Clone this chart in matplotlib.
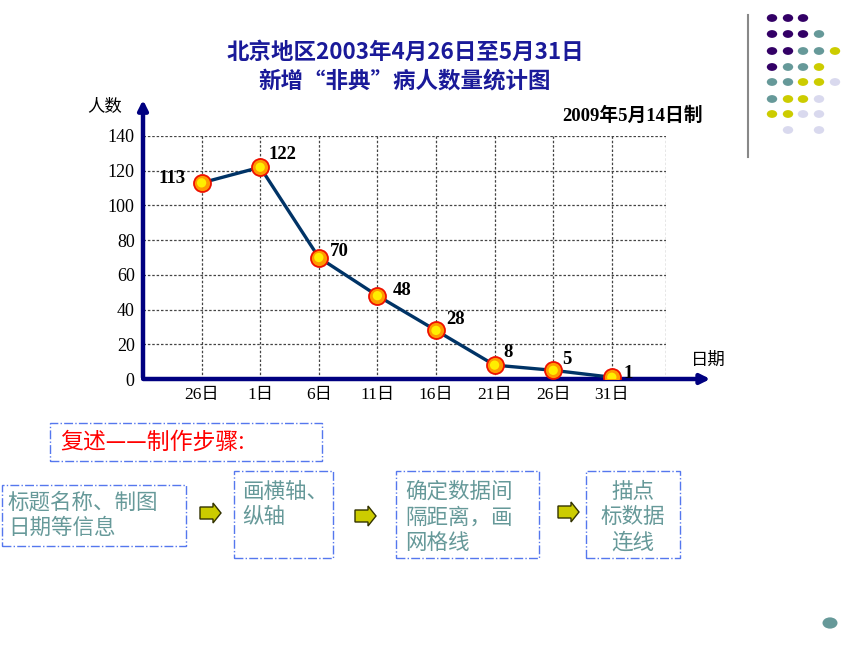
import matplotlib.pyplot as plt
from matplotlib.patches import Rectangle, Polygon, Circle

plt.rcParams['font.family'] = ['Noto Sans CJK SC', 'DejaVu Sans']

# chart data
days = ['26日', '1日', '6日', '11日', '16日', '21日', '26日', '31日']
cases = [113, 122, 70, 48, 28, 8, 5, 1]
# offsets (points) of the value labels
label_offsets = [(-21, 3), (16, 9), (15, 4), (18, 4), (14, 8), (10, 9), (10, 8), (12, 3)]
y_ticks = [0, 20, 40, 60, 80, 100, 120, 140]

# bottom step boxes
steps = ['标题名称、制图\n日期等信息', '画横轴、\n纵轴', '确定数据间\n隔距离，画\n网格线', '描点\n标数据\n连线']

# decoration dots (top right)
dot_rows = ['PPP', 'PPPT', 'PPTTY', 'PTTY', 'TTYYL', 'TYYL', 'YYLL', ' L L']
dot_colors = {'P': '#330066', 'T': '#669999', 'Y': '#cccc00', 'L': '#d9d9ee'}

W, H = 860, 645
fig = plt.figure(figsize=(8.6, 6.45), dpi=100)


def fx(x):
    return x / W


def fy(y):
    return 1 - y / H


serif = ['Liberation Serif', 'Noto Sans CJK SC']
navy = '#000080'

# main chart axes
ax = fig.add_axes([fx(143), fy(379), fx(666 - 143), (379 - 136) / H])
x = list(range(len(days)))
ax.set_xlim(-1, 7.925)
ax.set_ylim(0, 140)
for s in ax.spines.values():
    s.set_visible(False)

# dashed grid
for v in y_ticks[1:]:
    ax.axhline(v, color='#444444', lw=0.9, ls=(0, (2, 1.5)), zorder=1)
for xi in x + [7.925]:
    ax.axvline(xi, color='#444444', lw=0.9, ls=(0, (2, 1.5)), zorder=1)

# axes with arrows
ax.annotate('', xy=(0, 1.16), xytext=(0, -0.005), xycoords='axes fraction',
            arrowprops=dict(arrowstyle='-|>', color=navy, lw=3.2, mutation_scale=14))
ax.annotate('', xy=(1.09, 0), xytext=(-0.005, 0), xycoords='axes fraction',
            arrowprops=dict(arrowstyle='-|>', color=navy, lw=3.2, mutation_scale=14))

ax.plot(x, cases, color='#003366', lw=2.4, zorder=3)
ax.scatter(x, cases, s=150, facecolor='#ff9900', edgecolor='#ee1100', lw=1.3, zorder=4)
ax.scatter(x, cases, s=45, facecolor='#ffee00', edgecolor='none', zorder=5)

for xi, v, off in zip(x, cases, label_offsets):
    ax.annotate(str(v), (xi, v), xytext=off, textcoords='offset points',
                ha='center', va='center', fontsize=13.5, fontweight='bold',
                family='Liberation Serif', zorder=6)

ax.set_yticks(y_ticks)
ax.set_xticks(x)
ax.set_xticklabels(days)
ax.tick_params(length=0, pad=6)
for t in ax.get_yticklabels():
    t.set_family('Liberation Serif')
    t.set_fontsize(13)
for t in ax.get_xticklabels():
    t.set_family(serif)
    t.set_fontsize(12.5)

fig.text(fx(105), fy(107), '人数', fontsize=12.5, ha='center', va='center')
fig.text(fx(708), fy(360), '日期', fontsize=12.5, ha='center', va='center')
fig.text(fx(703), fy(116), '2009年5月14日制', fontsize=13.5, ha='right', va='center',
         fontweight='bold', family=serif)

# title
fig.text(fx(405), fy(52), '北京地区2003年4月26日至5月31日', fontsize=16.2, fontweight='bold',
         color='#1a1a99', ha='center', va='center')
fig.text(fx(405), fy(81), '新增“非典”病人数量统计图', fontsize=16.2, fontweight='bold',
         color='#1a1a99', ha='center', va='center')


def box(x0, y0, x1, y1):
    fig.patches.append(Rectangle((fx(x0), fy(y1)), fx(x1 - x0), (y1 - y0) / H,
                                 transform=fig.transFigure, fill=False,
                                 edgecolor='#5577ee', lw=1, ls='-.'))


def arrow(x0, yc):
    pts = [(x0, yc - 6), (x0 + 13, yc - 6), (x0 + 13, yc - 10), (x0 + 21, yc),
           (x0 + 13, yc + 10), (x0 + 13, yc + 6), (x0, yc + 6)]
    fig.patches.append(Polygon([(fx(a), fy(b)) for a, b in pts], closed=True,
                               transform=fig.transFigure, facecolor='#cccc00',
                               edgecolor='#333300', lw=1))


box(50, 423, 322, 461)
fig.text(fx(60), fy(442), '复述——制作步骤:', fontsize=16.5, color='#ff0000', va='center')

teal = '#669999'
fs = 15.5
box(2, 485, 186, 546)
fig.text(fx(8), fy(515), steps[0], fontsize=fs, color=teal, va='center', linespacing=1.2)
box(234, 471, 333, 558)
fig.text(fx(242), fy(481), steps[1], fontsize=fs, color=teal, va='top', linespacing=1.2)
box(396, 471, 539, 558)
fig.text(fx(405), fy(481), steps[2], fontsize=fs, color=teal, va='top', linespacing=1.2)
box(586, 471, 680, 558)
fig.text(fx(633), fy(481), steps[3], fontsize=fs, color=teal, va='top', ha='center',
         linespacing=1.2)

arrow(200, 513)
arrow(355, 516)
arrow(558, 512)

# decoration
fig.add_artist(plt.Line2D([fx(748), fx(748)], [fy(15), fy(157)], color='#888888', lw=1.5))
xs = [772, 788, 803, 819, 835]
ys = [18, 34, 51, 67, 82, 99, 114, 130]
for r, row in enumerate(dot_rows):
    for c, ch in enumerate(row):
        if ch == ' ':
            continue
        fig.patches.append(Circle((fx(xs[c]), fy(ys[r])), 5.2 / W, transform=fig.transFigure,
                                  facecolor=dot_colors[ch], edgecolor='none'))
fig.patches.append(Circle((fx(830), fy(623)), 7.5 / W, transform=fig.transFigure,
                          facecolor='#669999', edgecolor='none'))

fig.savefig('out.png', dpi=100)
